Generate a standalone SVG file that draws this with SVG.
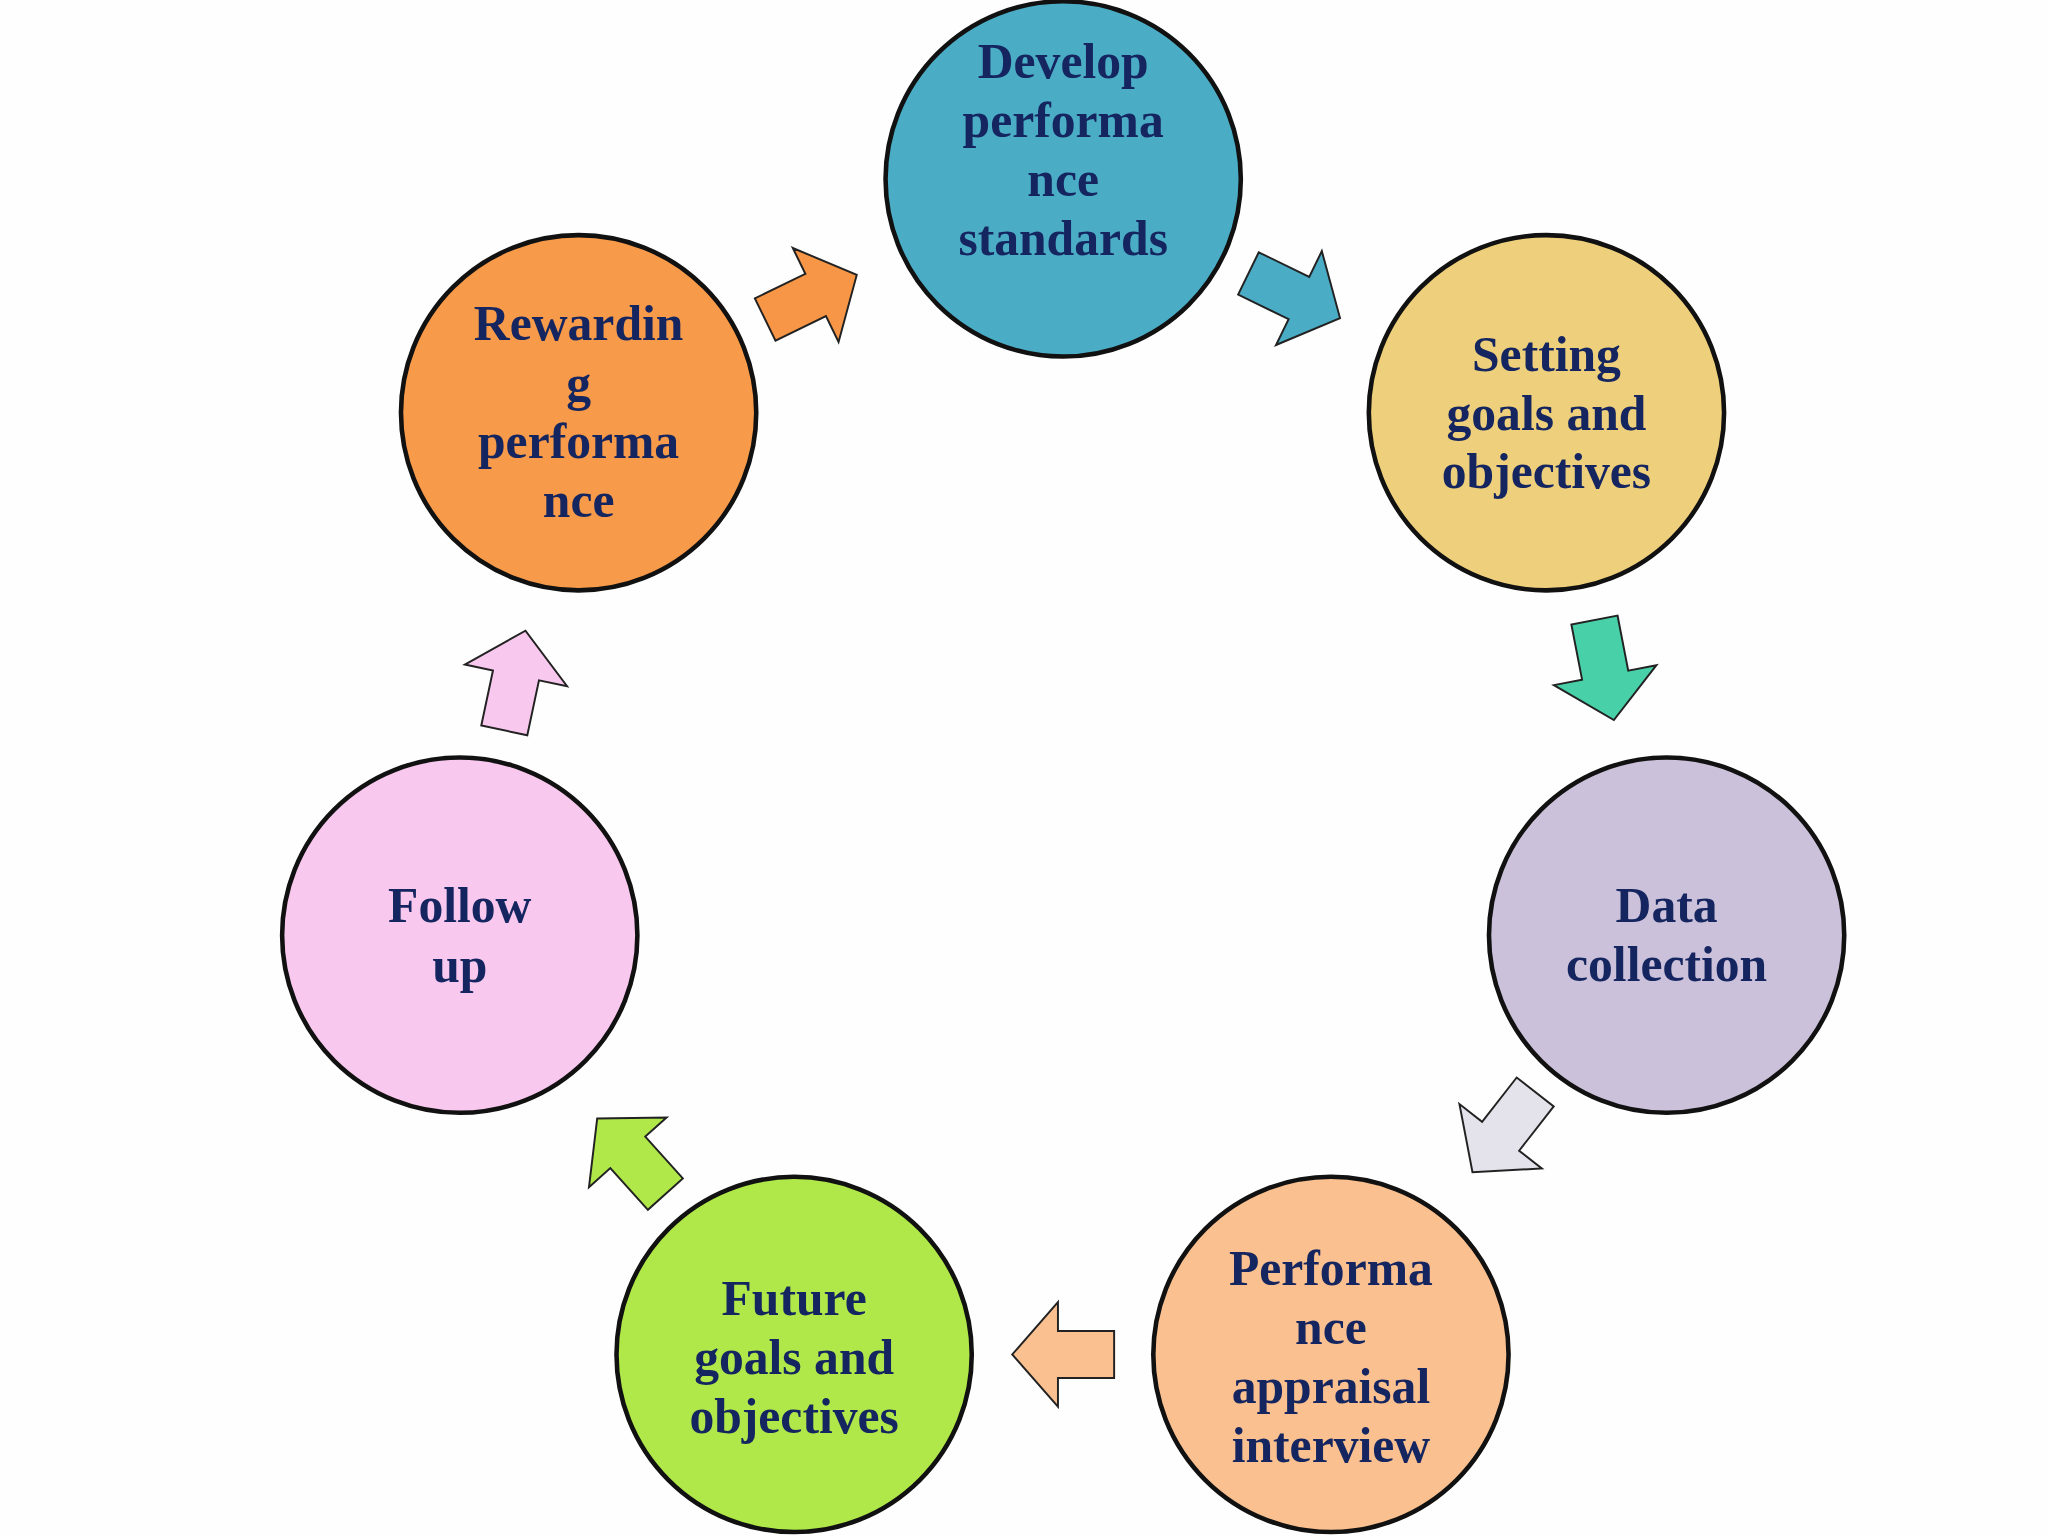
<svg xmlns="http://www.w3.org/2000/svg" width="2048" height="1536" viewBox="0 0 2048 1536">
<style>
.c{stroke:#111;stroke-width:3.5}
.a{stroke:#222;stroke-width:1.5}
text{font-family:"Liberation Serif","Times New Roman",serif;font-weight:bold;font-size:38px;fill:#14255f;text-anchor:middle}
</style>
<defs><polygon id="arr" points="-38,-18 5,-18 5,-40 40,0 5,40 5,18 -38,18"/></defs>
<rect width="2048" height="1536" fill="#fefefe"/>
<g transform="scale(1.30612)">
<g id="connectors">
<use href="#arr" class="a" fill="#f79646" transform="translate(620,228) rotate(-26)"/>
<use href="#arr" class="a" fill="#4bacc6" transform="translate(990,226) rotate(26)"/>
<use href="#arr" class="a" fill="#48d1a8" transform="translate(1228,512) rotate(79)"/>
<use href="#arr" class="a" fill="#e4e2ea" transform="translate(1152,866) rotate(128)"/>
<use href="#arr" class="a" fill="#fac090" transform="translate(815,1037) rotate(180)"/>
<use href="#arr" class="a" fill="#b0e84a" transform="translate(484,886) rotate(-132)"/>
<use href="#arr" class="a" fill="#f9c8ee" transform="translate(394,522) rotate(-78)"/>
</g>
<g id="n1"><circle class="c" cx="814" cy="137" r="136" fill="#4bacc6"/>
<text x="814" y="60">Develop</text><text x="814" y="105">performa</text><text x="814" y="150">nce</text><text x="814" y="195">standards</text></g>
<g id="n2"><circle class="c" cx="1184" cy="316" r="136" fill="#eecf7b"/>
<text x="1184" y="284">Setting</text><text x="1184" y="329">goals and</text><text x="1184" y="374">objectives</text></g>
<g id="n3"><circle class="c" cx="1276" cy="716" r="136" fill="#ccc1da"/>
<text x="1276" y="706">Data</text><text x="1276" y="751">collection</text></g>
<g id="n4"><circle class="c" cx="1019" cy="1037" r="136" fill="#fac090"/>
<text x="1019" y="984">Performa</text><text x="1019" y="1029">nce</text><text x="1019" y="1074">appraisal</text><text x="1019" y="1119">interview</text></g>
<g id="n5"><circle class="c" cx="608" cy="1037" r="136" fill="#b0e84a"/>
<text x="608" y="1007">Future</text><text x="608" y="1052">goals and</text><text x="608" y="1097">objectives</text></g>
<g id="n6"><circle class="c" cx="352" cy="716" r="136" fill="#f9c8ee"/>
<text x="352" y="706">Follow</text><text x="352" y="752">up</text></g>
<g id="n7"><circle class="c" cx="443" cy="316" r="136" fill="#f79a4a"/>
<text x="443" y="260">Rewardin</text><text x="443" y="306">g</text><text x="443" y="351">performa</text><text x="443" y="396">nce</text></g>
</g>
</svg>
